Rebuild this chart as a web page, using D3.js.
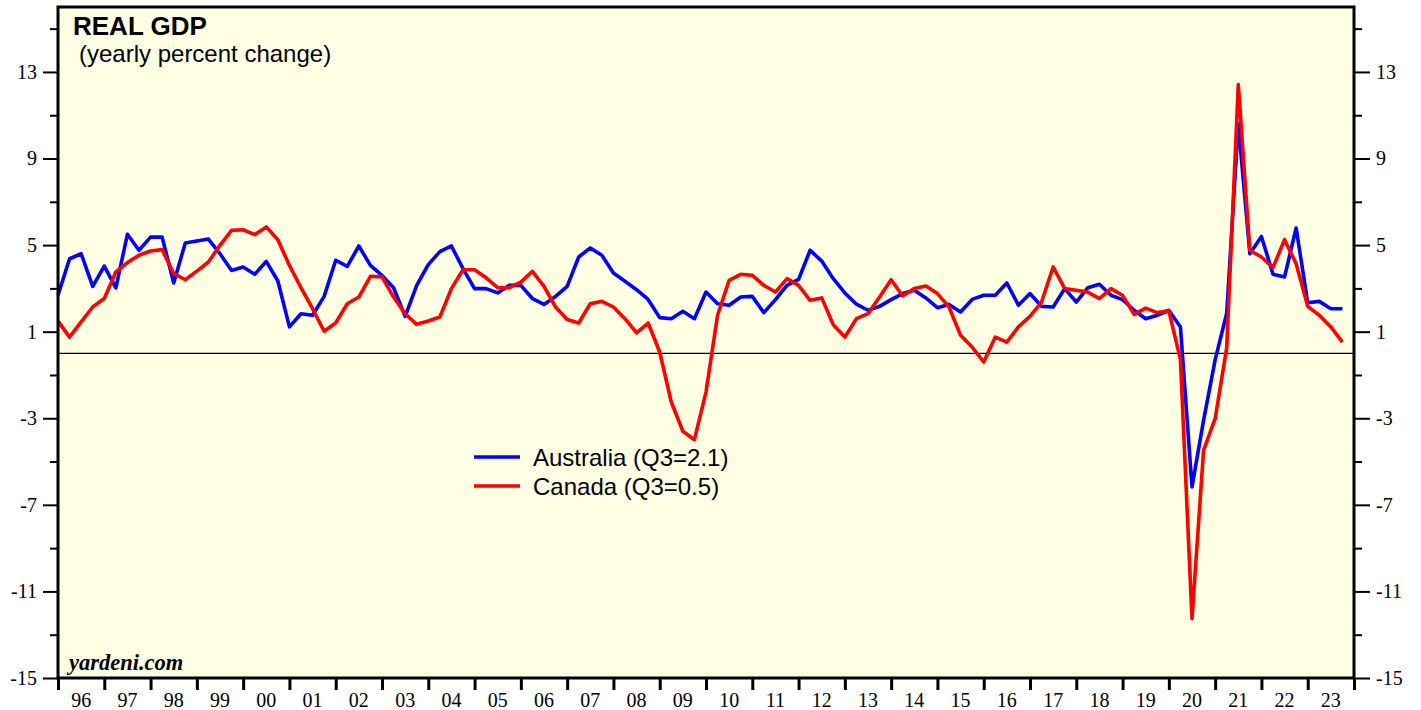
<!DOCTYPE html>
<html>
<head>
<meta charset="utf-8">
<script src="https://cdn.jsdelivr.net/npm/d3@7"></script>
<style>
  body { margin: 0; background: #ffffff; }
  svg { display: block; }
</style>
</head>
<body>
<div id="chart"></div>
<script>
// Quarterly, yearly percent change, 1995Q4 .. 2023Q3 (plotted at quarter end)
var firstYear = 1995, firstQuarter = 4, nQuarters = 112;

var australia = [
  2.68, 4.37, 4.60, 3.09, 4.03, 3.02, 5.50, 4.76, 5.37, 5.37,
  3.25, 5.10, 5.19, 5.28, 4.60, 3.83, 3.99, 3.65, 4.25, 3.34,
  1.22, 1.83, 1.76, 2.63, 4.30, 4.02, 4.96, 4.06, 3.60, 3.03,
  1.71, 3.14, 4.10, 4.70, 4.96, 3.91, 2.99, 2.99, 2.79, 3.14,
  3.14, 2.53, 2.26, 2.63, 3.09, 4.45, 4.87, 4.53, 3.71, 3.33,
  2.94, 2.49, 1.65, 1.60, 1.94, 1.60, 2.83, 2.29, 2.22, 2.60,
  2.63, 1.88, 2.48, 3.14, 3.42, 4.76, 4.26, 3.45, 2.79, 2.27,
  1.99, 2.17, 2.48, 2.76, 2.91, 2.56, 2.11, 2.26, 1.91, 2.49,
  2.68, 2.68, 3.25, 2.22, 2.76, 2.17, 2.14, 2.99, 2.37, 3.03,
  3.19, 2.68, 2.48, 1.99, 1.60, 1.76, 1.99, 1.22, -6.17, -3.10,
  -0.30, 1.85, 10.61, 4.60, 5.40, 3.65, 3.53, 5.79, 2.34, 2.40,
  2.06, 2.06
];

var canada = [
  1.49, 0.75, 1.45, 2.14, 2.53, 3.76, 4.19, 4.53, 4.73, 4.79,
  3.68, 3.40, 3.80, 4.22, 4.99, 5.68, 5.71, 5.48, 5.84, 5.25,
  4.06, 3.03, 2.06, 1.02, 1.40, 2.29, 2.60, 3.56, 3.53, 2.60,
  1.83, 1.34, 1.49, 1.68, 2.99, 3.86, 3.86, 3.49, 3.03, 3.03,
  3.29, 3.79, 3.09, 2.14, 1.56, 1.40, 2.29, 2.40, 2.14, 1.60,
  0.95, 1.40, 0.06, -2.25, -3.60, -3.99, -1.79, 1.76, 3.37, 3.65,
  3.60, 3.14, 2.83, 3.45, 3.14, 2.45, 2.56, 1.32, 0.75, 1.60,
  1.83, 2.60, 3.40, 2.65, 2.99, 3.11, 2.76, 2.14, 0.83, 0.29,
  -0.40, 0.75, 0.52, 1.22, 1.71, 2.37, 3.99, 2.99, 2.91, 2.83,
  2.53, 2.99, 2.68, 1.80, 2.09, 1.88, 1.96, -0.28, -12.26, -4.48,
  -3.02, 0.25, 12.42, 4.76, 4.45, 3.96, 5.25, 4.14, 2.17, 1.76,
  1.22, 0.52
];

var seriesNames = ["Australia (Q3=2.1)", "Canada (Q3=0.5)"];
var seriesColors = ["#0000ff", "#ff0000"];

var yMajorTicks = [-15, -11, -7, -3, 1, 5, 9, 13];
var yMinorTicks = [-13, -9, -5, -1, 3, 7, 11, 15];
var years = d3.range(1996, 2024);
var yearLabels = years.map(function (y) { return String(y).slice(2); });

// quarter-end positions as fractional years
var quarters = d3.range(nQuarters).map(function (i) {
  var q = firstQuarter - 1 + i;
  return firstYear + Math.floor(q / 4) + ((q % 4) + 1) / 4;
});

// Dimensions and margins
var W = 1421, H = 710;
var margin = { top: 7, right: 67, bottom: 32, left: 58 };
var width = W - margin.left - margin.right;
var height = H - margin.top - margin.bottom;

var x = d3.scaleLinear().domain([1996, 2024]).range([0, width]);
var y = d3.scaleLinear().domain([-15, 16]).range([height, 0]);

var svg = d3.select("#chart").append("svg")
  .attr("width", W)
  .attr("height", H)
  .append("g")
  .attr("transform", "translate(" + margin.left + "," + margin.top + ")");

// plot background
svg.append("rect")
  .attr("width", width)
  .attr("height", height)
  .attr("fill", "#ffffe3");

// zero line
svg.append("line")
  .attr("x1", 0).attr("x2", width)
  .attr("y1", y(0)).attr("y2", y(0))
  .attr("stroke", "#000").attr("stroke-width", 1.2);

// y axes, left and right, major + minor ticks
function styleAxis(g) {
  g.select(".domain").remove();
  g.selectAll(".tick line").attr("stroke", "#000").attr("stroke-width", 2);
  g.selectAll(".tick text")
    .attr("font-family", "'Liberation Serif', 'Times New Roman', serif")
    .attr("font-size", 20)
    .attr("fill", "#000");
}

// plain hyphen for negatives, like the original
var plain = function (d) { return String(d); };

svg.append("g")
  .call(d3.axisLeft(y).tickValues(yMajorTicks).tickSize(15).tickPadding(6).tickFormat(plain))
  .call(styleAxis);
svg.append("g")
  .call(d3.axisLeft(y).tickValues(yMinorTicks).tickSize(8).tickFormat(""))
  .call(styleAxis);
svg.append("g")
  .attr("transform", "translate(" + width + ",0)")
  .call(d3.axisRight(y).tickValues(yMajorTicks).tickSize(16).tickPadding(6).tickFormat(plain))
  .call(styleAxis);
svg.append("g")
  .attr("transform", "translate(" + width + ",0)")
  .call(d3.axisRight(y).tickValues(yMinorTicks).tickSize(8).tickFormat(""))
  .call(styleAxis);

// x axis: year boundary ticks, labels centred in each year
var xAxis = svg.append("g")
  .attr("transform", "translate(0," + height + ")")
  .call(d3.axisBottom(x).tickValues(d3.range(1996, 2025)).tickSize(12).tickFormat(""));
xAxis.select(".domain").remove();
xAxis.selectAll(".tick line").attr("stroke", "#000").attr("stroke-width", 3);

svg.append("g")
  .selectAll("text")
  .data(years)
  .join("text")
  .attr("x", function (d) { return x(d + 0.5); })
  .attr("y", height + 29)
  .attr("text-anchor", "middle")
  .attr("font-family", "'Liberation Serif', 'Times New Roman', serif")
  .attr("font-size", 20)
  .text(function (d, i) { return yearLabels[i]; });

// series lines
var line = d3.line()
  .x(function (d, i) { return x(quarters[i]); })
  .y(function (d) { return y(d); });

[australia, canada].forEach(function (s, k) {
  svg.append("path")
    .datum(s)
    .attr("fill", "none")
    .attr("stroke", seriesColors[k])
    .attr("stroke-width", 3.6)
    .attr("stroke-linejoin", "round")
    .attr("d", line);
});

// frame
svg.append("rect")
  .attr("width", width)
  .attr("height", height)
  .attr("fill", "none")
  .attr("stroke", "#000")
  .attr("stroke-width", 3);

// titles
svg.append("text")
  .attr("x", 15).attr("y", 28)
  .attr("font-family", "'Liberation Sans', Arial, sans-serif")
  .attr("font-weight", "bold")
  .attr("font-size", 26)
  .text("REAL GDP");

svg.append("text")
  .attr("x", 21).attr("y", 55)
  .attr("font-family", "'Liberation Sans', Arial, sans-serif")
  .attr("font-size", 24)
  .text("(yearly percent change)");

svg.append("text")
  .attr("x", 11).attr("y", height - 8)
  .attr("font-family", "'Liberation Serif', 'Times New Roman', serif")
  .attr("font-weight", "bold")
  .attr("font-style", "italic")
  .attr("font-size", 22.5)
  .text("yardeni.com");

// legend
var legend = svg.append("g").attr("transform", "translate(416,450)");
seriesNames.forEach(function (name, k) {
  var row = legend.append("g").attr("transform", "translate(0," + (k * 29) + ")");
  row.append("line")
    .attr("x1", 0).attr("x2", 46)
    .attr("stroke", seriesColors[k])
    .attr("stroke-width", 3.6);
  row.append("text")
    .attr("x", 59).attr("y", 9)
    .attr("font-family", "'Liberation Sans', Arial, sans-serif")
    .attr("font-size", 24)
    .text(name);
});
</script>
</body>
</html>
